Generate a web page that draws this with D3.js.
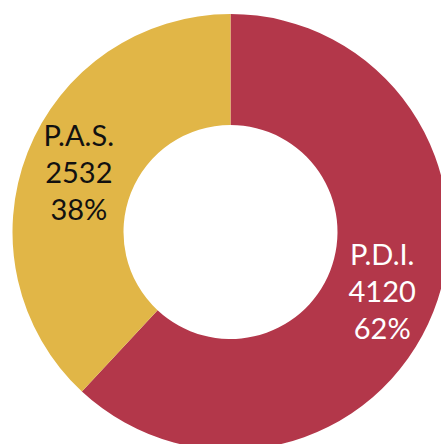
<!DOCTYPE html>
<html>
<head>
  <script src="https://d3js.org/d3.v7.min.js"></script>
  <style>
    body { margin: 0; background: #fff; }
  </style>
</head>
<body>
<svg width="441" height="444"></svg>
<script>
  const categories = ["P.D.I.", "P.A.S."];
  const values = [4120, 2532];
  const percents = ["62%", "38%"];
  const colors = ["#b3374a", "#e1b647"];
  const textColors = ["#ffffff", "#111111"];

  const svg = d3.select("svg");
  const cx = 230.5, cy = 232;
  const outerR = 218, innerR = 107, labelR = 163;

  const data = categories.map((c, i) => ({ name: c, value: values[i], pct: percents[i], i: i }));

  const pie = d3.pie().value(d => d.value).sort(null);
  const arc = d3.arc().innerRadius(innerR).outerRadius(outerR);
  const labelArc = d3.arc().innerRadius(labelR).outerRadius(labelR);

  const g = svg.append("g").attr("transform", `translate(${cx},${cy})`);

  g.selectAll("path")
    .data(pie(data))
    .enter().append("path")
    .attr("d", arc)
    .attr("fill", d => colors[d.data.i]);

  const label = g.selectAll("text")
    .data(pie(data))
    .enter().append("text")
    .attr("transform", d => `translate(${labelArc.centroid(d)})`)
    .attr("text-anchor", "middle")
    .attr("font-family", "Lato, sans-serif")
    .attr("font-size", 29)
    .attr("fill", d => textColors[d.data.i]);

  label.each(function(d) {
    const t = d3.select(this);
    [d.data.name, d.data.value, d.data.pct].forEach((s, k) => {
      t.append("tspan")
        .attr("x", 0)
        .attr("y", (k - 1) * 37)
        .attr("dy", "0.36em")
        .text(s);
    });
  });
</script>
</body>
</html>
